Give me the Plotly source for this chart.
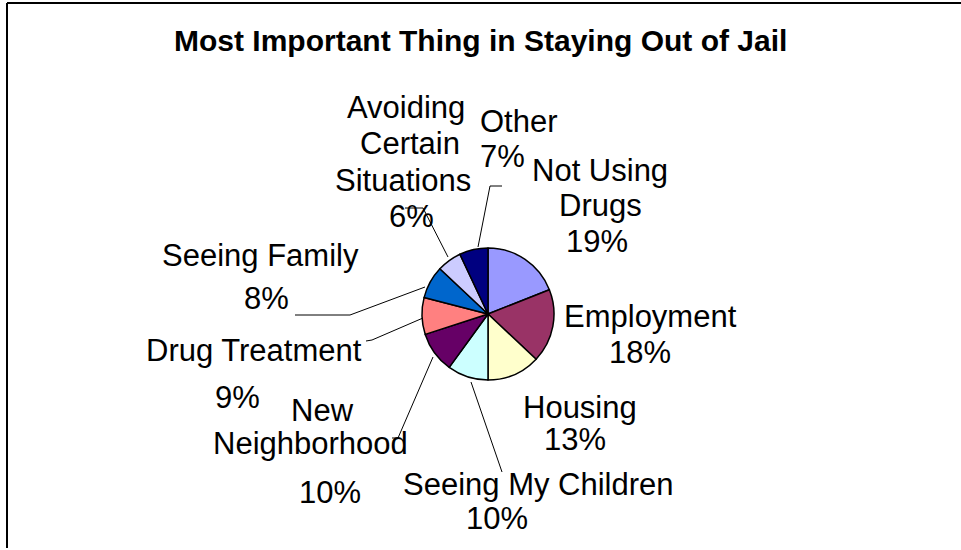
import plotly.graph_objects as go

W, H = 961, 550

categories = ["Not Using Drugs", "Employment", "Housing", "Seeing My Children",
              "New Neighborhood", "Drug Treatment", "Seeing Family",
              "Avoiding Certain Situations", "Other"]
percents = [19, 18, 13, 10, 10, 9, 8, 6, 7]
# how each name is wrapped on the chart
name_lines = [["Not Using", "Drugs"], ["Employment"], ["Housing"], ["Seeing My Children"],
              ["New", "Neighborhood"], ["Drug Treatment"], ["Seeing Family"],
              ["Avoiding", "Certain", "Situations"], ["Other"]]

COLORS = ["#9999FF", "#993366", "#FFFFCC", "#CCFFFF", "#660066",
          "#FF8080", "#0066CC", "#CCCCFF", "#000080"]

# label placement in pixels: x of each name line, y of each name line, pct (x, y), align
LABEL_POS = [
    ([600, 600], [170, 206], (597, 242), "center"),
    ([650], [316], (640, 352), "center"),
    ([580], [407], (575, 439), "center"),
    ([538], [484], (497, 518), "center"),
    ([322, 310], [410, 443], (330, 492), "center"),
    ([254], [350], (237, 397), "center"),
    ([260], [255], (266, 298), "center"),
    ([406, 410, 403], [107, 143, 180], (411, 216), "center"),
    ([478], [122], (478, 157), "left"),
]

# leader lines in pixels
LEADERS = [
    [(471, 382), (502, 472)],
    [(433, 357), (398, 438), (392, 438)],
    [(423, 318), (372, 340), (366, 341)],
    [(425, 287), (350, 315), (295, 315)],
    [(448, 257), (423, 208), (405, 208)],
    [(478, 247), (490, 186), (502, 186)],
]

CX, CY, R = 488, 314, 66
FONT = "Liberation Sans, Arial, sans-serif"
LABEL_SIZE = 31


def px(x):
    return x / W


def py(y):
    return 1 - y / H


fig = go.Figure(go.Pie(
    labels=categories, values=percents, sort=False, direction="clockwise",
    rotation=0, textinfo="none", hoverinfo="label+percent",
    marker=dict(colors=COLORS, line=dict(color="black", width=1.5)),
    domain=dict(x=[px(CX - R), px(CX + R)], y=[py(CY + R), py(CY - R)]),
    showlegend=False,
))


def _label(text, x, y, align):
    anchor = "left" if align == "left" else "center"
    return dict(text=text, x=px(x), y=py(y), xref="paper", yref="paper",
                showarrow=False, xanchor=anchor, yanchor="middle", align=align,
                font=dict(family=FONT, size=LABEL_SIZE, color="black"))


annotations = []
for lines, pct, (xs, ys, (qx, qy), al) in zip(name_lines, percents, LABEL_POS):
    for line, x, y in zip(lines, xs, ys):
        annotations.append(_label(line, x, y, al))
    annotations.append(_label(f"{pct}%", qx, qy, al))

annotations.append(dict(text="<b>Most Important Thing in Staying Out of Jail</b>",
                        x=px(481), y=py(40), xref="paper", yref="paper", showarrow=False,
                        xanchor="center", yanchor="middle",
                        font=dict(family=FONT, size=30, color="black")))

shapes = []
for pts in LEADERS:
    path = "M " + " L ".join(f"{px(x)},{py(y)}" for x, y in pts)
    shapes.append(dict(type="path", path=path, xref="paper", yref="paper",
                       line=dict(color="black", width=1)))

# chart frame (cut off at right and bottom)
shapes.append(dict(type="line", xref="paper", yref="paper", x0=px(7), x1=1, y0=py(3), y1=py(3),
                   line=dict(color="black", width=2)))
shapes.append(dict(type="line", xref="paper", yref="paper", x0=px(7), x1=px(7), y0=py(3), y1=py(548),
                   line=dict(color="black", width=2)))

fig.update_layout(
    width=W, height=H,
    margin=dict(l=0, r=0, t=0, b=0),
    paper_bgcolor="white", plot_bgcolor="white",
    annotations=annotations, shapes=shapes,
)

# drop the page's default body margin so the figure sits at the window origin
fig.write_html("out.html", config={"displayModeBar": False},
               post_script="document.body.style.margin='0';document.body.style.overflow='hidden';")
